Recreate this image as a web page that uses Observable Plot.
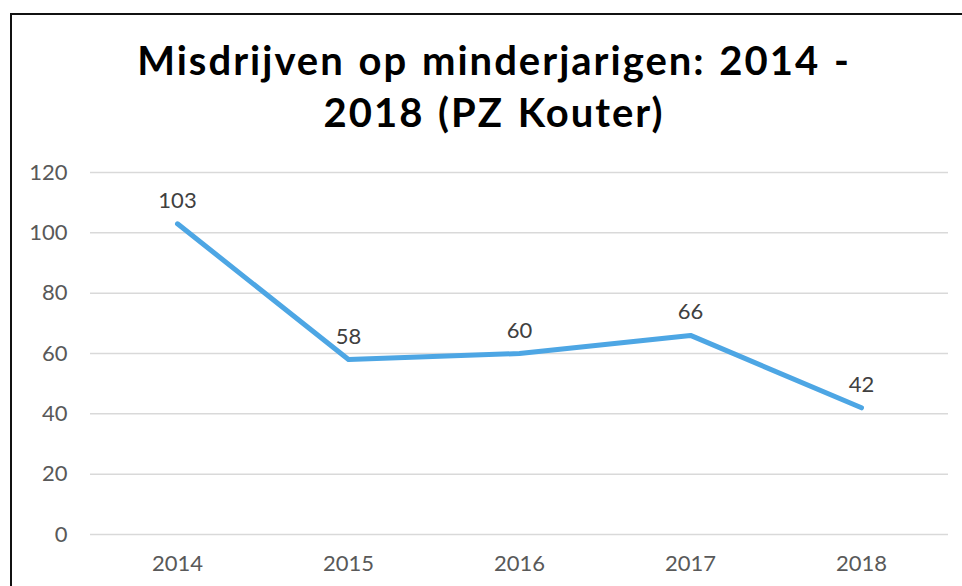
<!DOCTYPE html>
<html>
<head>
<meta charset="utf-8">
<script src="https://cdn.jsdelivr.net/npm/d3@7"></script>
<script src="https://cdn.jsdelivr.net/npm/@observablehq/plot@0.6"></script>
<style>
  html, body { margin: 0; padding: 0; background: #fff; overflow: hidden; }
  #page { position: relative; width: 962px; height: 586px; overflow: hidden; }
  #frame { position: absolute; left: 10px; top: 13px; width: 1000px; height: 640px;
           border: 2px solid #111; box-sizing: border-box; }
  #title { position: absolute; left: 0; top: 34px; width: 988px; text-align: center;
           font-family: Lato, "Open Sans", sans-serif; font-weight: 700; font-size: 40px;
           letter-spacing: 2px; word-spacing: 2px;
           line-height: 52px; color: #000; }
  #chart { position: absolute; left: 0; top: 150px; }
</style>
</head>
<body>
<div id="page">
  <div id="frame"></div>
  <div id="title">Misdrijven op minderjarigen: 2014 -<br>2018 (PZ Kouter)</div>
  <div id="chart"></div>
</div>
<script>
const years = ["2014", "2015", "2016", "2017", "2018"];
const values = [103, 58, 60, 66, 42];
const yTicks = [0, 20, 40, 60, 80, 100, 120];

const data = years.map((year, i) => ({year, value: values[i]}));

const chart = Plot.plot({
  width: 962,
  height: 436,
  marginLeft: 90,
  marginRight: 14,
  marginTop: 22,
  marginBottom: 52,
  style: {fontFamily: "Lato, 'Open Sans', sans-serif", background: "transparent"},
  x: {type: "point", domain: years, padding: 0.5, label: null},
  y: {domain: [0, 120], label: null},
  marks: [
    Plot.gridY(yTicks, {stroke: "#d9d9d9", strokeOpacity: 1, strokeWidth: 1.5}),
    Plot.axisY(yTicks, {tickSize: 0, tickPadding: 23, fontSize: 22, fill: "#595959", label: null}),
    Plot.axisX({tickSize: 0, tickPadding: 21, fontSize: 22, fill: "#595959", label: null}),
    Plot.line(data, {x: "year", y: "value", stroke: "#4da6e4", strokeWidth: 5,
                     strokeLinecap: "round", strokeLinejoin: "round"}),
    Plot.text(data, {x: "year", y: "value", text: d => String(d.value),
                     lineAnchor: "bottom", dy: -16, fontSize: 22, fill: "#404040"})
  ]
});
document.getElementById("chart").appendChild(chart);
</script>
</body>
</html>
